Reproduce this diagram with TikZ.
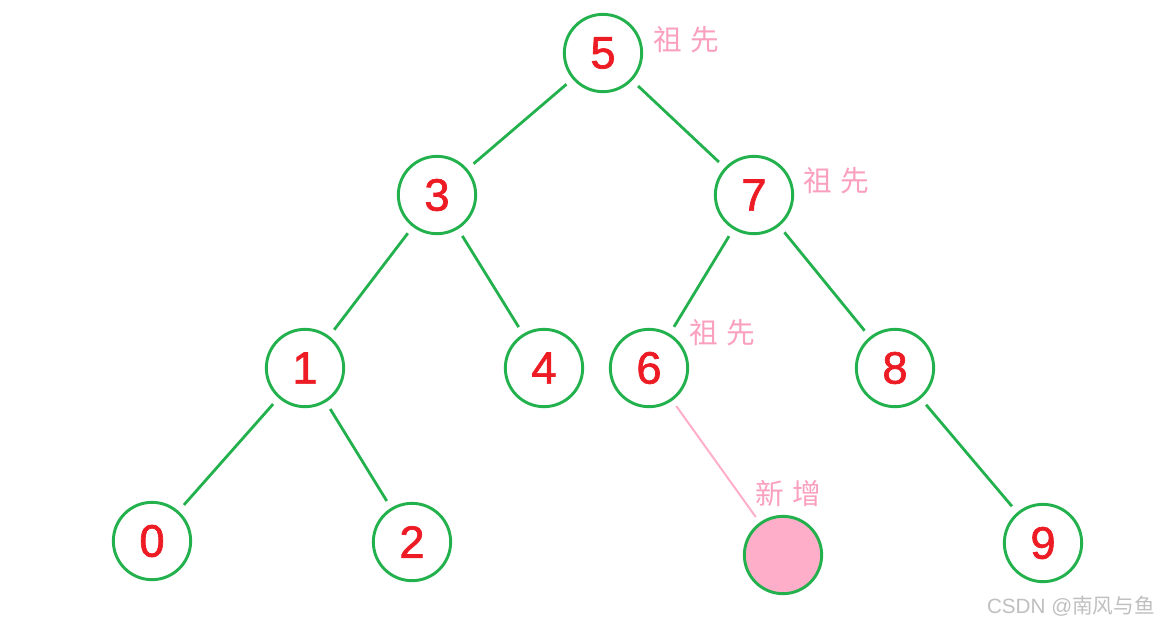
\documentclass[tikz,border=0pt]{standalone}
\usepackage{fontspec}
\setmainfont{Liberation Sans}
\newfontfamily\keyfont[UprightFeatures={FakeBold=1.5}]{Liberation Sans}
\newfontfamily\cjk{Noto Sans CJK SC}
\usetikzlibrary{positioning}
\definecolor{treegreen}{RGB}{34,177,76}
\definecolor{keyred}{RGB}{237,28,36}
\definecolor{newpink}{RGB}{255,174,201}
\definecolor{tagpink}{RGB}{250,160,190}
\tikzset{
  keynode/.style={circle, draw=treegreen, line width=2.2pt, minimum size=58pt,
    inner sep=0pt, text=keyred, font=\keyfont\fontsize{34}{34}\selectfont},
  newnode/.style={keynode, fill=newpink},
  edge/.style={draw=treegreen, line width=2.1pt, shorten >=6pt, shorten <=6pt},
  newedge/.style={draw=newpink, line width=1.5pt, shorten >=5pt, shorten <=5pt},
  tag/.style={text=tagpink, inner sep=0pt, font=\cjk\fontsize{21.5}{21.5}\selectfont}
}
\newcommand{\tagtext}[2]{#1\hspace{0.3em}#2}

\begin{document}
\begin{tikzpicture}[x=0.75pt, y=-0.75pt]
  \useasboundingbox (0,0) rectangle (1163,626);
  % keys
  \node[keynode] (n5) at (603,53) {5};
  \node[keynode] (n3) at (437,195) {3};
  \node[keynode] (n7) at (754,195) {7};
  \node[keynode] (n1) at (305,368) {1};
  \node[keynode] (n4) at (544,368) {4};
  \node[keynode] (n6) at (649,368) {6};
  \node[keynode] (n8) at (895,368) {8};
  \node[keynode] (n0) at (152,541) {0};
  \node[keynode] (n2) at (412,542) {2};
  \node[newnode] (nn) at (783,555) {};
  \node[keynode] (n9) at (1043,543) {9};
  % links
  \draw[edge] (n5) -- (n3);
  \draw[edge] (n5) -- (n7);
  \draw[edge] (n3) -- (n1);
  \draw[edge] (n3) -- (n4);
  \draw[edge] (n7) -- (n6);
  \draw[edge] (n7) -- (n8);
  \draw[edge] (n1) -- (n0);
  \draw[edge] (n1) -- (n2);
  \draw[edge] (n8) -- (n9);
  \draw[newedge] (n6) -- (nn);
  % notes
  \node[tag] (a5) at (686,40) {\tagtext{祖}{先}};
  \node[tag] (a7) at (836,181) {\tagtext{祖}{先}};
  \node[tag] (a6) at (722,333) {\tagtext{祖}{先}};
  \node[tag] (an) at (788,493) {\tagtext{新}{增}};
  \node[text=black!25, inner sep=0pt, font=\fontsize{15.5}{15.5}\selectfont] (wm) at (1071,606)
    {CSDN @{\cjk 南风与鱼}};
\end{tikzpicture}
\end{document}
